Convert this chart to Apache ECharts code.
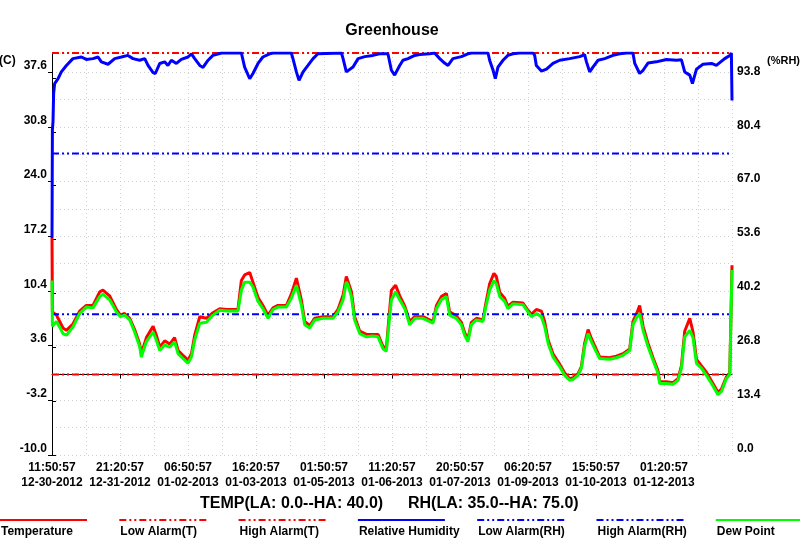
<!DOCTYPE html>
<html><head><meta charset="utf-8">
<script src="https://cdn.jsdelivr.net/npm/echarts@6/dist/echarts.min.js"></script>
<style>html,body{margin:0;padding:0;background:#fff}#c{width:800px;height:558px}</style>
</head><body><div id="c"></div>
<script>
// ---- data (hours since 12-30-2012 11:50:57) ----
const hours = [0,0.2,2.2,3.8,5.4,7.1,10.3,13.6,16.9,20.2,
23.5,25.1,28.4,31.7,33.7,35.8,38.3,40.7,43.2,44.0,
46.5,49.8,51.4,53.1,55.5,58.0,60.4,62.1,64.5,67.0,
68.7,70.3,72.8,76.1,79.3,82.6,85.9,89.2,91.6,93.3,
94.9,97.4,99.0,101.5,103.9,106.4,108.9,111.3,115.5,117.9,
120.4,121.2,122.9,124.5,127.0,129.4,133.5,138.4,140.9,143.4,
145.0,145.8,147.5,149.1,151.6,154.9,158.1,160.6,163.1,164.7,
165.5,167.2,169.3,171.3,173.8,176.2,178.7,182.8,187.7,189.4,
191.8,194.3,195.9,199.2,201.7,203.3,204.9,206.6,209.1,212.3,
213.7,215.6,217.7,218.9,220.6,223.0,224.6,227.1,232.0,234.5,
236.2,238.6,241.1,242.7,244.4,246.8,250.1,252.6,255.0,256.7,
259.1,260.8,262.4,264.1,265.7,268.2,269.8,274.7,278.0,281.3,
284.6,286.2,288.2,289.5,291.2,293.6,296.1,298.5,299.4,302.7,
305.9,308.4,310.1,311.7,314.2,315.8,317.5,319.9,322.4,324.9,
328.1,329.8,332.2,333.9,335.0];
const tempC = [17.0,7.8,7.4,6.6,5.8,5.5,6.3,7.9,8.6,8.6,
10.3,10.5,9.8,8.1,7.4,7.6,7.0,5.6,3.8,2.6,
4.6,6.0,4.9,3.4,4.2,3.8,4.6,3.0,2.4,1.8,
2.6,4.9,7.2,7.0,7.7,8.2,8.1,8.1,8.1,11.7,
12.4,12.7,11.5,9.6,8.6,7.4,8.3,8.6,8.6,10.0,
12.0,12.2,9.2,6.6,6.1,7.0,7.2,7.2,8.1,9.9,
12.2,12.0,10.3,7.2,5.4,5.0,5.0,5.0,3.5,3.2,
5.6,10.5,11.1,9.8,8.5,6.6,7.2,7.2,6.6,8.6,
9.7,10.1,7.8,7.3,6.5,5.2,4.4,6.5,7.0,6.8,
8.8,11.3,12.6,12.2,10.2,9.5,8.5,9.0,8.9,8.0,
7.5,8.1,7.9,6.6,4.3,2.6,1.3,0.2,-0.5,-0.4,
0.1,1.0,3.9,5.6,4.5,3.1,2.2,2.1,2.3,2.6,
3.2,6.6,7.7,8.6,6.0,3.9,2.1,0.5,-0.9,-0.9,
-1.0,-0.5,1.1,5.4,7.0,5.3,1.9,1.1,0.3,-0.8,
-2.2,-1.8,-0.3,0.2,13.6];
const dewC = [11.7,6.0,6.6,5.9,5.1,4.9,5.9,7.6,8.4,8.3,
9.7,10.0,9.3,7.8,7.2,7.4,6.8,5.3,3.5,2.2,
4.1,5.3,4.3,3.0,3.7,3.4,4.1,2.6,2.0,1.4,
2.2,4.3,6.4,6.5,7.4,8.0,7.9,7.9,7.9,10.5,
11.5,11.5,10.9,9.1,8.2,7.0,8.1,8.4,8.4,9.5,
11.1,11.3,8.6,6.2,5.8,6.8,7.0,7.0,7.8,9.3,
11.5,11.2,9.7,6.8,5.1,4.7,4.8,4.7,3.2,2.9,
5.1,9.3,10.3,9.3,8.2,6.2,7.0,7.0,6.4,8.2,
9.3,9.7,7.4,7.0,6.2,4.9,4.1,6.2,6.8,6.6,
8.4,10.5,11.7,11.3,9.7,9.1,8.2,8.8,8.7,7.8,
7.2,7.6,7.2,6.0,3.9,2.2,1.0,-0.1,-0.7,-0.6,
-0.1,0.8,3.5,5.1,4.1,2.8,2.0,1.9,2.1,2.4,
3.0,6.2,7.2,7.6,5.5,3.5,1.8,0.2,-1.1,-1.1,
-1.2,-0.7,0.8,4.7,5.5,4.6,1.4,0.8,-0.1,-1.1,
-2.5,-2.1,-0.5,0.0,13.0];
const rhHours = [0,0.2,0.5,0.8,1.3,3.0,4.6,7.1,10.3,14.5,
16.9,20.2,22.7,24.3,27.6,30.9,34.2,37.4,39.9,43.2,
45.7,47.3,49.8,50.9,53.1,55.5,57.1,58.8,61.3,63.7,
67.0,68.7,70.3,72.8,74.4,76.9,79.3,83.5,88.4,93.3,
94.9,97.4,99.0,101.5,103.9,107.2,108.9,117.9,118.7,120.4,
121.7,123.7,126.1,128.6,131.0,131.9,142.6,143.4,145.0,145.8,
148.3,150.8,154.1,158.1,161.4,165.5,167.2,168.8,171.3,172.9,
175.4,178.7,181.1,186.1,188.5,191.0,193.4,195.1,197.5,201.7,
204.9,206.6,214.8,215.6,217.3,218.4,219.7,222.2,224.6,227.1,
230.4,237.0,237.8,238.6,241.1,243.6,246.8,250.1,255.0,260.0,
262.4,263.3,264.9,266.5,269.0,272.3,276.4,279.7,283.0,286.2,
287.1,289.5,291.2,293.6,297.7,302.7,307.6,310.1,311.7,314.2,
315.5,317.5,320.7,324.9,327.3,331.4,333.9,334.7,335.0];
const rhPct = [54,81,83,89.9,92.4,93.6,95.3,96.9,98.6,99.0,
98.4,98.6,99.0,97.8,97.2,98.6,99.0,99.4,98.6,98.2,
98.6,96.9,95.1,94.9,97.4,97.8,96.9,98.2,97.4,98.4,
99.0,99.8,98.6,96.9,96.4,98.2,99.4,100,100,100,
96.5,93.6,94.9,97.4,99.0,99.8,100,100,98.6,95.3,
93.2,95.3,96.9,98.6,99.8,100,100,98.6,95.3,94.9,
96.5,98.6,99.1,99.4,99.8,99.8,95.7,94.5,96.9,98.2,
98.6,99.4,99.6,99.8,100,98.6,97.5,96.9,98.6,99.1,
99.8,100,100,98.2,95.7,93.6,96.5,98.2,99.4,99.8,
100,100,99.4,96.9,95.5,96.0,97.4,98.2,98.6,99.1,
99.6,97.8,95.3,96.5,98.2,98.6,99.4,99.8,100,100,
97.4,94.9,95.7,97.5,97.8,98.4,98.2,98.3,95.3,94.5,
92.4,96.0,97.2,97.4,96.9,98.6,99.4,100,88.2];
const tempAlarm = [0.0, 40.0];   // LA, HA
const rhAlarm = [35.0, 75.0];    // LA, HA
const xTickLabels = ['11:50:57\n12-30-2012','21:20:57\n12-31-2012','06:50:57\n01-02-2013','16:20:57\n01-03-2013','01:50:57\n01-05-2013','11:20:57\n01-06-2013','20:50:57\n01-07-2013','06:20:57\n01-09-2013','15:50:57\n01-10-2013','01:20:57\n01-12-2013'];
const legendNames = ['Temperature','Low Alarm(T)','High Alarm(T)','Relative Humidity','Low Alarm(RH)','High Alarm(RH)','Dew Point'];

// ---- chart ----
const X_MAX = 335, X_STEP = 33.5;
const RED = '#ff0000', BLUE = '#0000ff', GREEN = '#00ff00';
const DASH = [7,3,2,3,2,3];
const FONT = '"Liberation Sans", Arial, sans-serif';
const zip = (a, b) => a.map((v, i) => [v, b[i]]);
const flat = (v) => [[0, v], [X_MAX, v]];
const gridLine = {show: true, lineStyle: {color: '#cfcfcf', type: [1, 3], width: 1}};
const lbl = {fontFamily: FONT, fontWeight: 'bold', fontSize: 12, color: '#000'};

const chart = echarts.init(document.getElementById('c'), null, {renderer: 'canvas'});
const legendStyles = [
  {c: RED, d: null}, {c: RED, d: DASH}, {c: RED, d: DASH},
  {c: BLUE, d: null}, {c: BLUE, d: DASH}, {c: BLUE, d: DASH}, {c: GREEN, d: null}
];
const txt = (text, x, y, size, align) => ({type: 'text', x, y, style: {text, font: 'bold ' + size + 'px ' + FONT, fill: '#000', align, verticalAlign: 'middle', textAlign: align, textVerticalAlign: 'middle'}});
const graphics = [
  txt('Greenhouse', 392, 31, 16, 'center'),
  txt('(C)', -1, 61, 12, 'left'),
  txt('(%RH)', 800, 61, 11, 'right'),
  txt('TEMP(LA: ' + tempAlarm[0].toFixed(1) + '--HA: ' + tempAlarm[1].toFixed(1) + ')', 200, 504, 16, 'left'),
  txt('RH(LA: ' + rhAlarm[0].toFixed(1) + '--HA: ' + rhAlarm[1].toFixed(1) + ')', 408, 504, 16, 'left')
];
legendNames.forEach((n, i) => {
  const x0 = 119.3 * i;
  graphics.push({type: 'line', shape: {x1: x0, y1: 520, x2: x0 + 87, y2: 520},
    style: {stroke: legendStyles[i].c, lineWidth: 2, lineDash: legendStyles[i].d}});
  graphics.push(txt(n, x0 + 1, 532, 12, 'left'));
});

const lineSeries = (name, data, color, yIdx, dash, width) => ({
  name, type: 'line', data, xAxisIndex: 0, yAxisIndex: yIdx, showSymbol: false, symbol: 'none',
  lineStyle: {color, width, type: dash || 'solid'}, itemStyle: {color}, animation: false, silent: true
});

chart.setOption({
  animation: false,
  backgroundColor: '#fff',
  grid: {left: 52, right: 68, top: 53, bottom: 103, containLabel: false},
  xAxis: [
    {type: 'value', min: 0, max: X_MAX, interval: X_STEP, position: 'bottom',
     axisLine: {show: true, lineStyle: {color: '#000', width: 1}},
     axisTick: {show: true, length: 4, lineStyle: {color: '#000'}},
     splitLine: {show: false},
     axisLabel: Object.assign({}, lbl, {margin: 5, lineHeight: 15, showMaxLabel: false,
       formatter: (v) => xTickLabels[Math.round(v / X_STEP)] || ''})},
    {type: 'value', min: 0, max: X_MAX, interval: X_STEP / 2, position: 'bottom',
     axisLine: {show: false}, axisTick: {show: false}, axisLabel: {show: false}, splitLine: gridLine}
  ],
  yAxis: [
    {type: 'value', min: -10, max: 40, interval: 6.8, position: 'left',
     axisLine: {show: true, lineStyle: {color: '#000', width: 1}},
     axisTick: {show: true, length: 4, lineStyle: {color: '#000'}},
     splitLine: {show: false},
     axisLabel: Object.assign({}, lbl, {margin: 5, verticalAlign: 'bottom', lineHeight: 13, showMaxLabel: false,
       formatter: (v) => v.toFixed(1)})},
    {type: 'value', min: 0, max: 100, interval: 13.4, position: 'right',
     axisLine: {show: true, lineStyle: {color: '#000', width: 1}},
     axisTick: {show: true, length: 4, lineStyle: {color: '#000'}},
     splitLine: {show: false},
     axisLabel: Object.assign({}, lbl, {margin: 5, verticalAlign: 'bottom', lineHeight: 13, showMaxLabel: false,
       formatter: (v) => v.toFixed(1)})},
    {type: 'value', min: -10, max: 40, interval: 3.4, position: 'left',
     axisLine: {show: false}, axisTick: {show: false}, axisLabel: {show: false}, splitLine: gridLine}
  ],
  series: [
    lineSeries('Temperature', zip(hours, tempC), RED, 0, null, 3),
    lineSeries('Low Alarm(T)', flat(tempAlarm[0]), RED, 0, DASH, 2),
    lineSeries('High Alarm(T)', flat(tempAlarm[1]), RED, 0, DASH, 2),
    lineSeries('Relative Humidity', zip(rhHours, rhPct), BLUE, 1, null, 3),
    lineSeries('Low Alarm(RH)', flat(rhAlarm[0]), BLUE, 1, DASH, 2),
    lineSeries('High Alarm(RH)', flat(rhAlarm[1]), BLUE, 1, DASH, 2),
    lineSeries('Dew Point', zip(hours, dewC), GREEN, 0, null, 3)
  ],
  graphic: graphics
});
</script></body></html>
